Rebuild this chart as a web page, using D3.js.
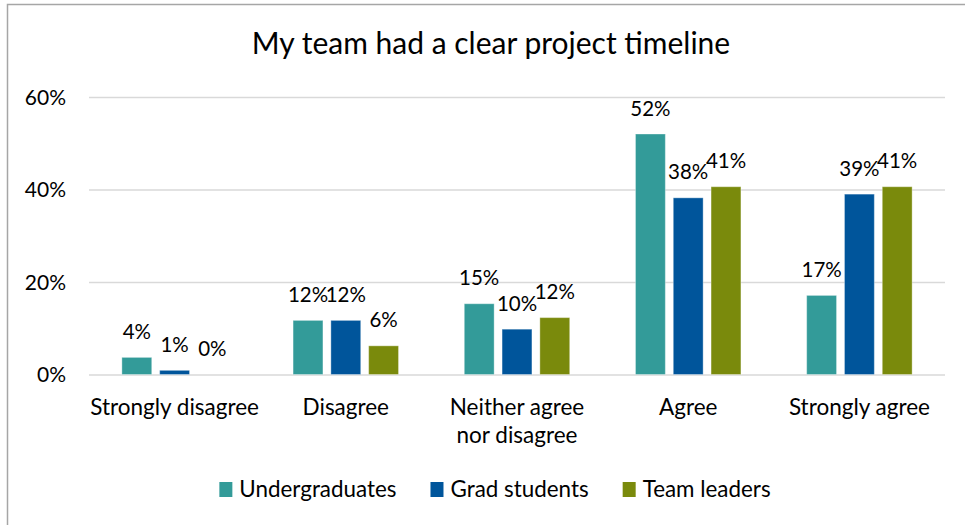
<!DOCTYPE html>
<html>
<head>
<meta charset="utf-8">
<script src="https://cdn.jsdelivr.net/npm/d3@7"></script>
<style>
  body { margin: 0; background: #fff; }
  svg { display: block; font-family: Lato, "Open Sans", sans-serif; }
</style>
</head>
<body>
<svg id="chart"></svg>
<script>
var categories = ["Strongly disagree", "Disagree", "Neither agree nor disagree", "Agree", "Strongly agree"];
var categoryLines = [["Strongly disagree"], ["Disagree"], ["Neither agree", "nor disagree"], ["Agree"], ["Strongly agree"]];
var seriesNames = ["Undergraduates", "Grad students", "Team leaders"];
var undergrads = [3.7, 11.7, 15.3, 52.0, 17.1];
var gradStudents = [0.9, 11.7, 9.8, 38.2, 39.0];
var teamLeaders = [0, 6.2, 12.3, 40.6, 40.6];
var yTicks = [0, 20, 40, 60];
var colors = ["#339b99", "#00559b", "#7a8a0c"];

var W = 965, H = 525;
var margin = {top: 97, right: 20, bottom: 150.5, left: 89};
var width = W - margin.left - margin.right;
var height = H - margin.top - margin.bottom;

var svg = d3.select("#chart")
    .attr("width", W)
    .attr("height", H);

svg.append("rect").attr("width", W).attr("height", H).attr("fill", "#fff");

// chart frame (only top and left edges show)
svg.append("path")
    .attr("d", "M7.5," + H + "V4.5H" + W)
    .attr("fill", "none")
    .attr("stroke", "#a6a6a6")
    .attr("stroke-width", 1.5);

svg.append("text")
    .attr("x", 491)
    .attr("y", 54)
    .attr("text-anchor", "middle")
    .attr("font-size", 30)
    .attr("fill", "#000")
    .text("My team had a clear project timeline");

var g = svg.append("g")
    .attr("transform", "translate(" + margin.left + "," + margin.top + ")");

var x0 = d3.scaleBand()
  .domain(categories)
  .range([0, width]);

var x1 = d3.scaleBand()
  .domain(seriesNames)
  .range([0, x0.bandwidth()])
  .paddingInner(0.21)
  .paddingOuter(0.87);

var y = d3.scaleLinear()
  .domain([0, 60])
  .range([height, 0]);

// gridlines + y labels
var yAxis = g.append("g")
    .attr("class", "yAxis")
    .call(d3.axisLeft(y).tickValues(yTicks).tickSize(-width).tickFormat(function(d) { return d + "%"; }));
yAxis.select(".domain").remove();
yAxis.selectAll("line")
    .attr("stroke", "#d9d9d9")
    .attr("stroke-width", 1.5);
yAxis.selectAll("text")
    .attr("x", -23)
    .attr("dy", "0.35em")
    .attr("font-size", 21)
    .attr("font-family", "Lato, sans-serif")
    .attr("fill", "#000");

var data = categories.map(function(c, i) {
  return {cat: c, values: [undergrads[i], gradStudents[i], teamLeaders[i]]};
});

var groups = g.selectAll(".grp")
    .data(data)
  .enter().append("g")
    .attr("class", "grp")
    .attr("transform", function(d) { return "translate(" + x0(d.cat) + ",0)"; });

groups.selectAll("rect")
    .data(function(d) { return d.values.map(function(v, j) { return {s: seriesNames[j], v: v, j: j}; }); })
  .enter().append("rect")
    .attr("x", function(d) { return x1(d.s); })
    .attr("y", function(d) { return y(d.v); })
    .attr("width", x1.bandwidth())
    .attr("height", function(d) { return height - y(d.v); })
    .attr("fill", function(d) { return colors[d.j]; })
    .attr("stroke", "#ffffff")
    .attr("stroke-opacity", 0.35)
    .attr("stroke-width", 1);

groups.selectAll(".lbl")
    .data(function(d) { return d.values.map(function(v, j) { return {s: seriesNames[j], v: v}; }); })
  .enter().append("text")
    .attr("class", "lbl")
    .attr("x", function(d) { return x1(d.s) + x1.bandwidth() / 2; })
    .attr("y", function(d) { return y(d.v) - 18.5; })
    .attr("text-anchor", "middle")
    .attr("font-size", 20.5)
    .attr("fill", "#000")
    .text(function(d) { return Math.round(d.v) + "%"; });

// category labels
var xLabels = g.selectAll(".xlbl")
    .data(categories)
  .enter().append("text")
    .attr("class", "xlbl")
    .attr("x", function(d) { return x0(d) + x0.bandwidth() / 2; })
    .attr("y", height + 40)
    .attr("text-anchor", "middle")
    .attr("font-size", 22.5)
    .attr("fill", "#000");
xLabels.each(function(d, i) {
  var t = d3.select(this);
  categoryLines[i].forEach(function(line, k) {
    t.append("tspan")
      .attr("x", x0(d) + x0.bandwidth() / 2)
      .attr("dy", k === 0 ? 0 : 28)
      .text(line);
  });
});

// legend
var legend = svg.append("g").attr("class", "legend");
var lx = 0;
seriesNames.forEach(function(name, i) {
  var item = legend.append("g").attr("transform", "translate(" + lx + ",0)");
  item.append("rect")
    .attr("x", 0)
    .attr("y", -15)
    .attr("width", 13)
    .attr("height", 15)
    .attr("fill", colors[i]);
  var t = item.append("text")
    .attr("x", 20)
    .attr("y", 0)
    .attr("font-size", 22.4)
    .attr("fill", "#000")
    .text(name);
  lx += 20 + t.node().getComputedTextLength() + 34;
});
var legendWidth = lx - 34;
legend.attr("transform", "translate(" + (495 - legendWidth / 2) + ",497)");
</script>
</body>
</html>
